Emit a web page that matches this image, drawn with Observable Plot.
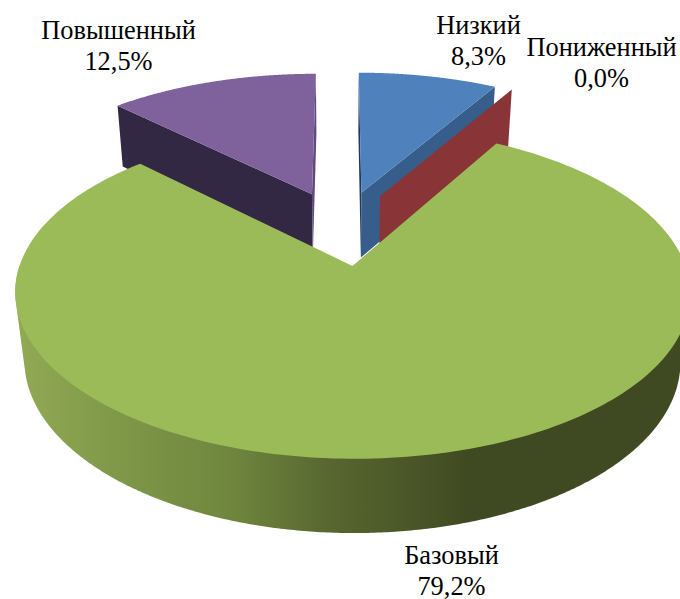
<!DOCTYPE html>
<html>
<head>
<meta charset="utf-8">
<script src="https://cdn.jsdelivr.net/npm/d3@7"></script>
<script src="https://cdn.jsdelivr.net/npm/@observablehq/plot@0.6"></script>
<style>html,body{margin:0;padding:0;background:#fff}svg{display:block}</style>
</head>
<body>
<div id="chart"></div>
<script>
// Data
const categories = ["Низкий", "Пониженный", "Базовый", "Повышенный"];
const values = [8.3, 0.0, 79.2, 12.5];

// Styles and layout
const topColors = ["#4f81bd", "#893436", "#9bbb59", "#7f619c"];
const wallColors = ["#375d8a", "#893436", "url(#greenWall)", "#322843"];
const edgeColors = ["#1f3a5f", "#893436", "#9bbb59", "#5e4a80"];
const labelX = [478, 601, 451, 118];
const labelY = [39, 61, 569, 44];
const gradStops = [[0, "#92aa55"], [0.17, "#7d9647"], [0.33, "#6f853e"], [0.47, "#586730"], [0.68, "#404a22"], [1, "#404a22"]];

// Perspective model of the 3D pie
const cam = {cx: 341, cy: 227, R: 320, B: 149, p: 0.157, q: 0.027, H: 68, explode: 0.25};
const project = (u, v, z) => {
  const d = 1 + cam.p * v + cam.q * z;
  return {x: cam.cx + cam.R * u / d, y: cam.cy + (-cam.B * v + cam.H * z) / d};
};

// Slice angles come from the values, clockwise from 12 o'clock
const total = d3.sum(values);
let acc = 0;
const slices = values.map((value, i) => {
  const a0 = acc / total * 2 * Math.PI;
  acc += value;
  const a1 = acc / total * 2 * Math.PI;
  const mid = (a0 + a1) / 2;
  const ou = cam.explode * Math.sin(mid), ov = cam.explode * Math.cos(mid);
  const rim = (a, z) => project(ou + Math.sin(a), ov + Math.cos(a), z);
  const apex = z => project(ou, ov, z);
  const arc = z => d3.range(0, 241).map(k => rim(a0 + (a1 - a0) * k / 240, z));
  return {i, a0, a1, rim, apex, arc};
});
const [low, lowered, base, high] = slices;

const poly = (points, fill) => Plot.line(points, {x: "x", y: "y", fill, stroke: "none", curve: "linear-closed"});
const radialWall = (s, a, fill) => poly([s.rim(a, 0), s.rim(a, 1), s.apex(1), s.apex(0)], fill);
const topFace = s => poly([s.apex(0), ...s.arc(0)], topColors[s.i]);

// Outer wall of the big slice: the silhouette of its near half, top and bottom rims together
const nearRim = d3.range(0, 361).flatMap(k => {
  const a = Math.PI / 2 + Math.PI * k / 360;
  return [base.rim(a, 0), base.rim(a, 1)];
});
const wallHull = d3.polygonHull(nearRim.map(p => [p.x, p.y])).map(([x, y]) => ({x, y}));

const labels = categories.map((c, i) => ({
  text: `${c}\n${values[i].toFixed(1).replace(".", ",")}%`, x: labelX[i], y: labelY[i]
}));

const svgNode = Plot.plot({
  width: 680,
  height: 599,
  margin: 0,
  x: {domain: [0, 680], range: [0, 680], axis: null},
  y: {domain: [0, 599], range: [0, 599], axis: null},
  marks: [
    radialWall(high, high.a0, wallColors[3]),
    radialWall(high, high.a1, edgeColors[3]),
    topFace(high),
    radialWall(low, low.a0, edgeColors[0]),
    radialWall(low, low.a1, wallColors[0]),
    topFace(low),
    radialWall(lowered, lowered.a0, wallColors[1]),
    poly(wallHull, wallColors[2]),
    topFace(base),
    Plot.text(labels, {
      x: "x", y: "y", text: "text",
      fontFamily: "Liberation Serif", fontSize: 26.4, lineHeight: 1.2,
      fill: "#000", textAnchor: "middle"
    })
  ]
});

const svg = d3.select(svgNode);
const grad = svg.insert("defs", ":first-child").append("linearGradient")
  .attr("id", "greenWall").attr("gradientUnits", "userSpaceOnUse")
  .attr("x1", 15).attr("x2", 680).attr("y1", 0).attr("y2", 0);
gradStops.forEach(([o, c]) => grad.append("stop").attr("offset", o).attr("stop-color", c));
document.getElementById("chart").append(svgNode);
</script>
</body>
</html>
